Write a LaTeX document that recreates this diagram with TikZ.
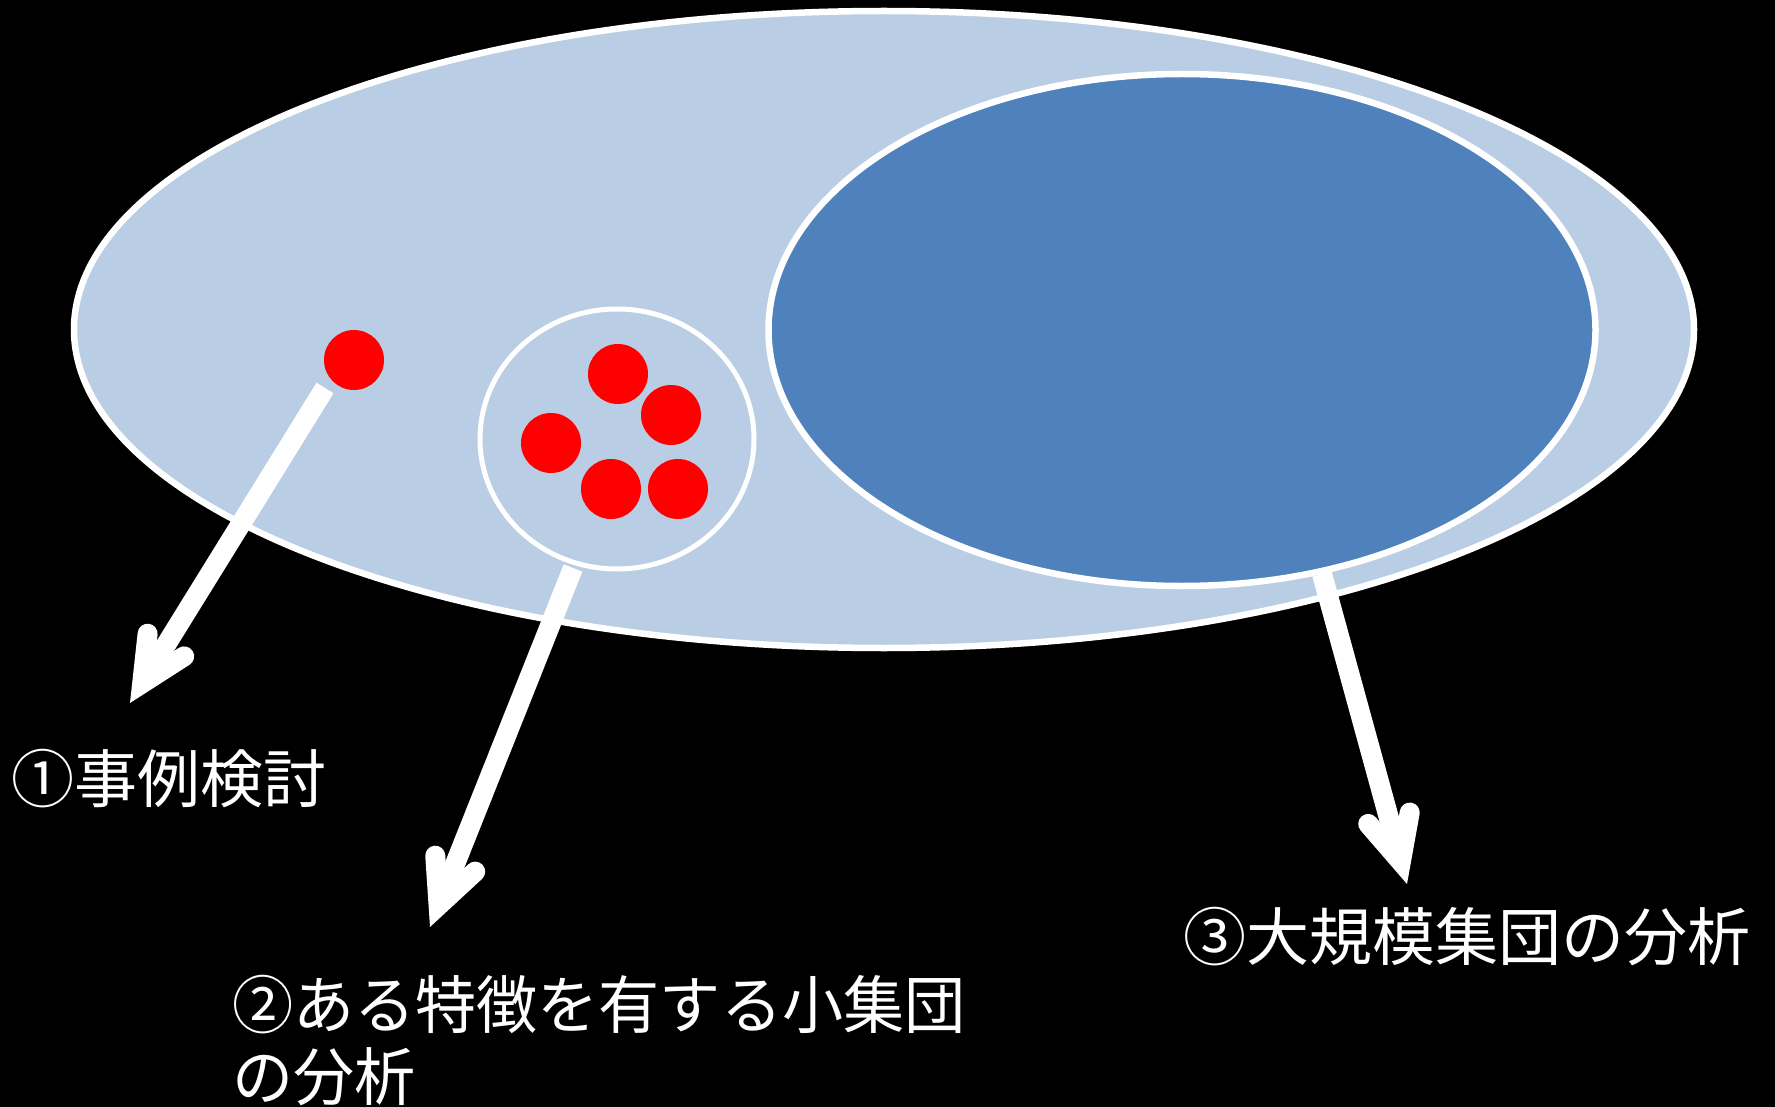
\documentclass[tikz,border=0pt]{standalone}
\usepackage{fontspec}
\newfontfamily\jp{Noto Sans CJK JP}
\newfontfamily\jpn[FakeStretch=0.97]{Noto Sans CJK JP}
\usetikzlibrary{shapes.geometric,arrows.meta}
\definecolor{lightb}{HTML}{B9CDE5}
\definecolor{darkb}{HTML}{4F81BD}
\begin{document}
\begin{tikzpicture}[x=1pt,y=-1pt,
  ell/.style={ellipse, draw=white, inner sep=0pt, outer sep=0pt},
  reddot/.style={circle, fill=red, inner sep=0pt, minimum size=60pt},
  arr/.style={draw=white, line width=20pt, -{Straight Barb[length=45pt,width=43pt,line cap=round,line join=miter]}},
  lab/.style={text=white, font=\jp\fontsize{63}{72}\selectfont, inner sep=0pt, align=left}]
\fill[black] (0,0) rectangle (1775,1107);
\useasboundingbox (0,0) rectangle (1775,1107);
\node[ell, fill=lightb, line width=6.5pt, minimum width=1620pt, minimum height=637pt] (big) at (884,329.5) {};
\node[ell, fill=darkb, line width=6.5pt, minimum width=827pt, minimum height=512pt] (large) at (1182,330) {};
\node[ell, fill=lightb, line width=5pt, minimum width=274pt, minimum height=260pt] (small) at (617,439) {};
\node[reddot] (d0) at (354,360) {};
\node[reddot] (d1) at (618,374) {};
\node[reddot] (d2) at (671,415) {};
\node[reddot] (d3) at (551,443) {};
\node[reddot] (d4) at (611,489) {};
\node[reddot] (d5) at (678,489) {};
\node[lab, anchor=west] (l1) at (11,779) {①事例検討};
\node[lab, anchor=west, font=\jpn\fontsize{63}{72}\selectfont] (l2) at (232,1041) {②ある特徴を有する小集団\\の分析};
\node[lab, anchor=west] (l3) at (1183,937) {③大規模集団の分析};
\coordinate (a1s) at (325,388);
\coordinate (a1e) at (130,703);
\coordinate (a2s) at (573,568);
\coordinate (a2e) at (430,927);
\coordinate (a3s) at (1322,574);
\coordinate (a3e) at (1407,884);
\draw[arr] (a1s) -- (a1e);
\draw[arr] (a2s) -- (a2e);
\draw[arr] (a3s) -- (a3e);
\end{tikzpicture}
\end{document}
